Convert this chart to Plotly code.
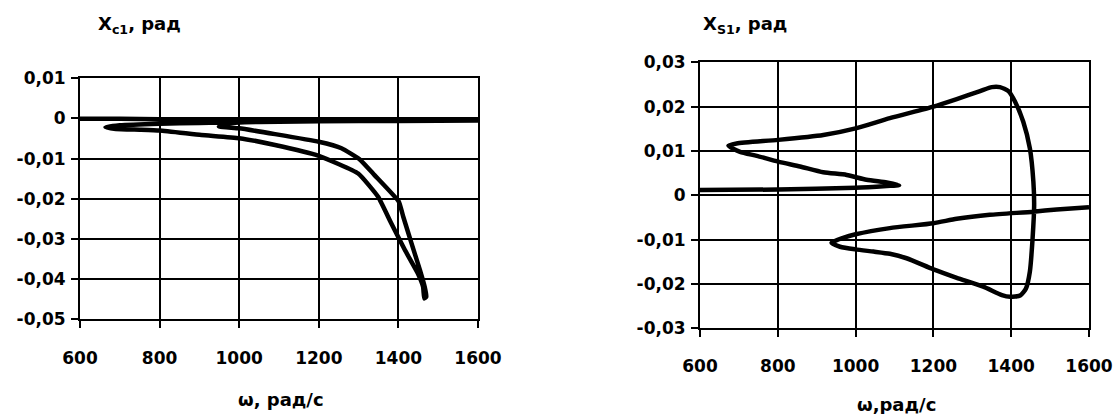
import plotly.graph_objects as go

# ---------------- data ----------------
# left panel: X_c1 (rad) vs omega (rad/s)
xc_omega = [600, 700, 800, 900, 1000, 1100, 1190, 1100, 1000, 900, 800, 700, 664,
            690, 750, 800, 905, 1000, 1090, 1200, 1299, 1349, 1382, 1416, 1449, 1462,
            1465, 1470, 1466, 1454, 1433, 1412, 1401, 1340, 1303, 1257, 1200, 1090,
            1000, 949, 970, 1000, 1100, 1200, 1400, 1600]
xc_val = [-0.0001, -0.0001, -0.0002, -0.0002, -0.0003, -0.0004, -0.0005, -0.0008,
          -0.0009, -0.0011, -0.0013, -0.0017, -0.0022,
          -0.0026, -0.0028, -0.0030, -0.0041, -0.0049, -0.0066, -0.0093, -0.0137,
          -0.0195, -0.0261, -0.0327, -0.0386, -0.0419,
          -0.0448, -0.0444, -0.0419, -0.0377, -0.0311, -0.0244, -0.0207, -0.0141,
          -0.0102, -0.0074, -0.0058, -0.0039,
          -0.00245, -0.0020, -0.0013, -0.0010, -0.0008, -0.0007, -0.0006, -0.0005]

# right panel: X_S1 (rad) vs omega (rad/s)
xs_omega = [600, 801, 1000, 1080, 1112, 1080, 1028, 977, 917, 857,
            801, 746, 703, 673, 694, 801, 917, 1000, 1088, 1200,
            1260, 1320, 1350, 1371, 1393, 1410, 1431, 1448, 1457, 1459,
            1455, 1448, 1438, 1423, 1397, 1376, 1328, 1260, 1200, 1131,
            1088, 1046, 1000, 960, 938, 968, 1000, 1088, 1200, 1260,
            1345, 1457, 1517, 1600]
xs_val = [0.0012, 0.0013, 0.0017, 0.0021, 0.0023, 0.0029, 0.0035, 0.0046, 0.0052, 0.0065,
          0.0076, 0.0089, 0.0098, 0.0112, 0.0117, 0.0125, 0.0136, 0.0151, 0.0174, 0.0200,
          0.0217, 0.0235, 0.0244, 0.0244, 0.0235, 0.0211, 0.0166, 0.0106, 0.0031, -0.0022,
          -0.0097, -0.0172, -0.0210, -0.0226, -0.0229, -0.0225, -0.0206, -0.0186, -0.0167, -0.0142,
          -0.0132, -0.0127, -0.0122, -0.0116, -0.0107, -0.0096, -0.0088, -0.0074, -0.0063, -0.0053,
          -0.0044, -0.0037, -0.0032, -0.0027]

x_ticks = [600, 800, 1000, 1200, 1400, 1600]
x_ticktext = ["600", "800", "1000", "1200", "1400", "1600"]
yl_ticks = [0.01, 0, -0.01, -0.02, -0.03, -0.04, -0.05]
yl_ticktext = ["0,01", "0", "-0,01", "-0,02", "-0,03", "-0,04", "-0,05"]
yr_ticks = [0.03, 0.02, 0.01, 0, -0.01, -0.02, -0.03]
yr_ticktext = ["0,03", "0,02", "0,01", "0", "-0,01", "-0,02", "-0,03"]

left_title = "X<sub>c1</sub>, рад"
right_title = "X<sub>S1</sub>, рад"
left_xtitle = "ω, рад/с"
right_xtitle = "ω,рад/с"

# ---------------- figure ----------------
W, H = 1117, 414
FONT = "DejaVu Sans"
fig = go.Figure()

fig.add_trace(go.Scatter(x=xc_omega, y=xc_val, mode="lines",
                         line=dict(color="black", width=4.5, shape="spline", smoothing=0.4),
                         xaxis="x", yaxis="y", showlegend=False))
fig.add_trace(go.Scatter(x=xs_omega, y=xs_val, mode="lines",
                         line=dict(color="black", width=4.5, shape="spline", smoothing=0.6),
                         xaxis="x2", yaxis="y2", showlegend=False))

def px_x(p):
    return p / W

def px_y(p):
    return 1 - p / H

def bold(ticktext):
    return ["<b>%s</b>" % t for t in ticktext]

axis_common = dict(showline=True, linecolor="black", linewidth=2, mirror=True,
                   showgrid=True, gridcolor="black", gridwidth=2,
                   ticks="outside", ticklen=7, tickwidth=2, tickcolor="black",
                   zeroline=False, tickmode="array", automargin=False,
                   tickfont=dict(family=FONT, size=17, color="black"))

fig.update_layout(
    template="none",
    width=W, height=H,
    margin=dict(l=0, r=0, t=0, b=0, pad=0),
    paper_bgcolor="white", plot_bgcolor="white",
    xaxis=dict(domain=[px_x(80), px_x(478)], range=[600, 1600], anchor="y",
               tickvals=x_ticks, ticktext=bold(x_ticktext), ticklabelstandoff=15, **axis_common),
    yaxis=dict(domain=[px_y(319.3), px_y(78.3)], range=[-0.05, 0.01], anchor="x",
               tickvals=yl_ticks, ticktext=bold(yl_ticktext), ticklabelstandoff=2, **axis_common),
    xaxis2=dict(domain=[px_x(700), px_x(1089)], range=[600, 1600], anchor="y2",
                tickvals=x_ticks, ticktext=bold(x_ticktext), ticklabelstandoff=14, **axis_common),
    yaxis2=dict(domain=[px_y(328.3), px_y(62.3)], range=[-0.03, 0.03], anchor="x2",
                tickvals=yr_ticks, ticktext=bold(yr_ticktext), ticklabelstandoff=2, **axis_common),
)

title_font = dict(family=FONT, size=18, color="black")
fig.add_annotation(text="<b>%s</b>" % left_title, xref="paper", yref="paper",
                   x=px_x(96), y=px_y(25),
                   xanchor="left", yanchor="middle", showarrow=False, font=title_font)
fig.add_annotation(text="<b>%s</b>" % right_title, xref="paper", yref="paper",
                   x=px_x(701), y=px_y(25),
                   xanchor="left", yanchor="middle", showarrow=False, font=title_font)
fig.add_annotation(text="<b>%s</b>" % left_xtitle, xref="paper", yref="paper",
                   x=px_x(281), y=px_y(399),
                   xanchor="center", yanchor="middle", showarrow=False, font=title_font)
fig.add_annotation(text="<b>%s</b>" % right_xtitle, xref="paper", yref="paper",
                   x=px_x(896), y=px_y(404),
                   xanchor="center", yanchor="middle", showarrow=False, font=title_font)

fig.write_html("out.html")
